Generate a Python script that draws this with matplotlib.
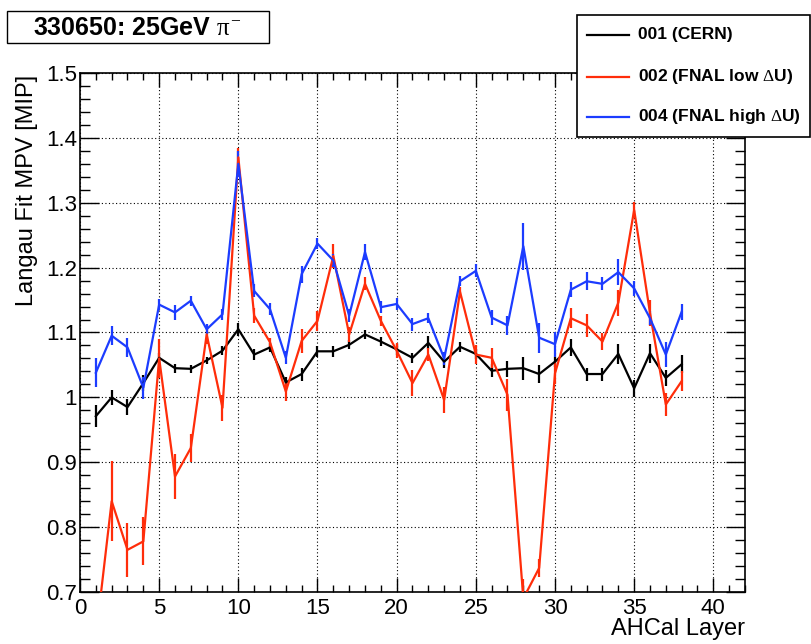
import matplotlib
matplotlib.use("Agg")
import matplotlib.pyplot as plt
from matplotlib.lines import Line2D
from matplotlib.patches import Rectangle
from matplotlib.ticker import MultipleLocator

plt.rcParams['font.family'] = ['Liberation Sans', 'DejaVu Sans']
plt.rcParams['mathtext.fontset'] = 'custom'
plt.rcParams['mathtext.rm'] = 'Liberation Serif'
plt.rcParams['mathtext.it'] = 'Liberation Serif'

layers = list(range(1, 39))

cern = [0.971, 1.000, 0.985, 1.022, 1.061, 1.045, 1.044, 1.057, 1.072, 1.105,
        1.066, 1.077, 1.023, 1.036, 1.071, 1.071, 1.081, 1.097, 1.086, 1.074,
        1.061, 1.084, 1.055, 1.078, 1.067, 1.041, 1.044, 1.045, 1.036, 1.055,
        1.077, 1.036, 1.036, 1.067, 1.014, 1.068, 1.030, 1.051]
cern_err = [0.017, 0.012, 0.012, 0.012, 0.008, 0.007, 0.006, 0.006, 0.007, 0.010,
            0.008, 0.007, 0.009, 0.010, 0.008, 0.008, 0.007, 0.007, 0.007, 0.008,
            0.008, 0.010, 0.009, 0.008, 0.008, 0.010, 0.012, 0.018, 0.014, 0.008,
            0.013, 0.010, 0.010, 0.016, 0.013, 0.015, 0.012, 0.014]

fnal_low = [0.63, 0.840, 0.765, 0.778, 1.060, 0.878, 0.922, 1.097, 0.984, 1.370,
            1.126, 1.085, 1.009, 1.087, 1.118, 1.218, 1.097, 1.175, 1.118, 1.072,
            1.022, 1.066, 0.996, 1.163, 1.066, 1.061, 1.004, 0.69, 0.737, 1.037,
            1.122, 1.111, 1.086, 1.146, 1.289, 1.130, 0.989, 1.025]
fnal_low_err = [0.03, 0.062, 0.042, 0.037, 0.03, 0.035, 0.021, 0.015, 0.02, 0.015,
                0.012, 0.007, 0.015, 0.018, 0.015, 0.018, 0.012, 0.010, 0.008, 0.012,
                0.020, 0.010, 0.020, 0.007, 0.015, 0.015, 0.025, 0.03, 0.014, 0.017,
                0.015, 0.018, 0.013, 0.020, 0.012, 0.020, 0.017, 0.015]

fnal_high = [1.038, 1.095, 1.077, 1.015, 1.143, 1.131, 1.149, 1.105, 1.128, 1.360,
             1.164, 1.136, 1.061, 1.190, 1.237, 1.211, 1.126, 1.224, 1.139, 1.144,
             1.113, 1.122, 1.060, 1.179, 1.195, 1.123, 1.111, 1.233, 1.092, 1.082,
             1.166, 1.179, 1.175, 1.193, 1.168, 1.122, 1.066, 1.132]
fnal_high_err = [0.022, 0.015, 0.014, 0.017, 0.008, 0.012, 0.008, 0.008, 0.008, 0.02,
                 0.010, 0.009, 0.010, 0.013, 0.009, 0.010, 0.010, 0.013, 0.009, 0.009,
                 0.010, 0.008, 0.010, 0.008, 0.010, 0.012, 0.015, 0.036, 0.023, 0.019,
                 0.012, 0.014, 0.010, 0.020, 0.011, 0.011, 0.019, 0.012]

series = [
    ("001 (CERN)", cern, cern_err, "#000000"),
    ("002 (FNAL low $\\Delta$U)", fnal_low, fnal_low_err, "#ff2d0a"),
    ("004 (FNAL high $\\Delta$U)", fnal_high, fnal_high_err, "#1c3cff"),
]

W, H = 812, 644
fig = plt.figure(figsize=(W / 100, H / 100), dpi=100)
ax = fig.add_axes([80 / W, 1 - 592 / H, 665 / W, 519 / H])

for label, vals, errs, col in series:
    ax.errorbar(layers, vals, yerr=errs, color=col, lw=1.6, elinewidth=1.6,
                capsize=0, zorder=3)

ax.set_xlim(0, 42)
ax.set_ylim(0.7, 1.5)
ax.xaxis.set_major_locator(MultipleLocator(5))
ax.xaxis.set_minor_locator(MultipleLocator(1))
ax.yaxis.set_minor_locator(MultipleLocator(0.02))
ax.set_yticks([0.7, 0.8, 0.9, 1.0, 1.1, 1.2, 1.3, 1.4, 1.5])
ax.set_yticklabels(["0.7", "0.8", "0.9", "1", "1.1", "1.2", "1.3", "1.4", "1.5"])

ax.tick_params(axis='both', which='both', direction='in', top=True, right=True,
               width=1.0, colors='black')
ax.tick_params(axis='x', which='major', length=10, pad=4, labelsize=16)
ax.tick_params(axis='x', which='minor', length=5)
ax.tick_params(axis='y', which='major', length=13.5, pad=2, labelsize=16)
ax.tick_params(axis='y', which='minor', length=7.5)
for s in ax.spines.values():
    s.set_linewidth(1.2)

ax.grid(True, which='major', color='black', linestyle=(0, (1, 2.2)), linewidth=0.8)
ax.set_axisbelow(True)

ax.set_xlabel("AHCal Layer", fontsize=17, loc='right')
ax.xaxis.set_label_coords(1.0, -0.05)
ax.set_ylabel("Langau Fit MPV [MIP]", fontsize=17, loc='top')
ax.yaxis.set_label_coords(-0.063, 0.996)

# title box
fig.patches.append(Rectangle((7 / W, 1 - 43 / H), 262 / W, 32 / H,
                             transform=fig.transFigure, facecolor='white',
                             edgecolor='black', lw=1.0))
fig.text(137 / W, 1 - 28 / H, "330650: 25GeV $\\pi^{-}$", fontsize=18,
         fontweight='bold', ha='center', va='center')

# legend box
fig.patches.append(Rectangle((577 / W, 1 - 137 / H), 233 / W, 122 / H,
                             transform=fig.transFigure, facecolor='white',
                             edgecolor='black', lw=1.2, zorder=5))
rows_y = [35, 77, 117]
for (label, vals, errs, col), yy in zip(series, rows_y):
    fig.lines.append(Line2D([587 / W, 629 / W], [1 - yy / H, 1 - yy / H],
                            transform=fig.transFigure, color=col, lw=1.6, zorder=6))
    fig.text(638 / W, 1 - yy / H, label, fontsize=12.5, fontweight='bold',
             ha='left', va='center', zorder=6)

fig.savefig("out.png", dpi=100)
